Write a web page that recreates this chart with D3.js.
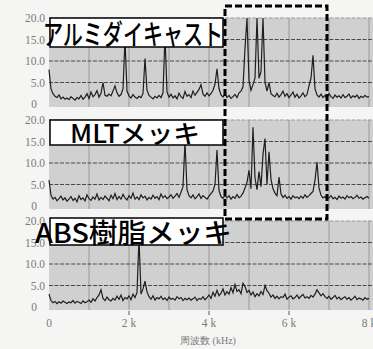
<!DOCTYPE html>
<meta charset="utf-8">
<style>
    body {
        margin: 0;
        background: #f5f5f4;
    }

    svg {
        display: block;
    }

    .tick-label {
        font-family: "Liberation Serif", "DejaVu Serif", serif;
        font-size: 11.5px;
        fill: #7a7a7a;
    }

    .name {
        font-family: "Noto Sans CJK JP", sans-serif;
        font-weight: 500;
        fill: #000;
    }
</style>

<body>
    <svg width="373" height="349"></svg>
    <script src="https://d3js.org/d3.v7.min.js"></script>
    <script>
        // spectrum sampled every 50 Hz, 0 - 8 kHz
        var freqStep = 50;

        var alumi = [
            8.0, 3.5, 2.4, 1.8, 1.5, 2.1, 1.2, 1.6, 1.1, 1.4,
            1.0, 1.7, 1.3, 0.9, 1.5, 1.2, 2.0, 1.1, 1.6, 2.4,
            1.3, 2.8, 1.7, 2.2, 3.1, 1.6, 2.5, 5.0, 2.0, 1.8,
            2.3, 1.9, 3.0, 4.2, 2.6, 1.8, 2.2, 3.5, 15.0, 3.0,
            1.9, 1.4, 2.2, 1.6, 1.3, 1.8, 1.5, 2.4, 10.6, 3.2,
            2.0, 1.6, 1.2, 1.8, 1.4, 2.0, 1.5, 2.6, 16.0, 2.8,
            1.6, 2.3, 1.4, 1.9, 1.2, 2.5, 1.7, 1.3, 2.9, 1.8,
            2.2, 1.5, 3.0, 2.0, 2.7, 3.4, 4.5, 2.3, 1.8, 2.6,
            1.9, 2.4, 3.2, 4.6, 8.2, 3.6, 2.1, 1.6, 2.4, 1.5,
            2.0, 1.3, 1.7, 2.2, 1.5, 2.6, 3.0, 4.0, 13.0, 20.0,
            5.5, 3.2, 4.5, 6.0, 20.0, 6.0, 7.5, 20.0, 5.0, 3.0,
            5.0, 2.4, 2.0, 1.7, 2.5, 1.6, 2.2, 3.0, 1.8, 2.4,
            1.5, 2.1, 2.8, 1.6, 2.3, 1.4, 1.9, 2.6, 1.7, 2.2,
            4.2, 6.0, 11.3, 3.5, 2.1, 1.6, 2.3, 1.5, 2.0, 1.4,
            2.4, 1.7, 1.3, 2.1, 1.6, 1.9, 1.4, 2.2, 1.5, 1.8,
            2.3, 1.4, 1.9, 1.6, 2.1, 1.3, 1.8, 1.5, 2.0, 1.6,
            1.7
        ];

        var mlt = [
            6.0, 2.5, 1.6, 2.0, 1.2, 1.7, 2.3, 1.4, 1.9, 1.1,
            1.6, 2.2, 1.3, 1.8, 1.0, 2.4, 1.5, 1.9, 1.2, 2.6,
            1.7, 1.3, 2.1, 1.6, 2.8, 1.4, 2.0, 1.5, 2.3, 1.8,
            1.2, 2.5, 1.7, 2.9, 1.5, 2.2, 1.6, 2.7, 1.9, 1.4,
            2.4, 1.8, 3.0, 1.6, 2.1, 1.5, 2.6, 1.9, 2.3, 1.4,
            2.0, 1.6, 2.5, 1.8, 2.2, 1.5, 2.8, 1.9, 2.4, 1.7,
            2.1, 2.6, 1.8, 2.3, 2.9, 2.0, 3.2, 4.5, 15.0, 3.8,
            2.4, 1.9, 2.6, 1.7, 2.2, 2.8, 1.8, 2.4, 2.0, 1.6,
            2.3, 2.9, 3.5, 5.0, 13.0, 3.6, 2.2, 1.8, 2.5, 1.9,
            2.4, 1.6, 2.2, 1.8, 2.7, 1.9, 2.3, 3.0, 4.2, 5.5,
            8.3, 4.0, 18.3, 6.5, 3.8, 8.0, 4.5, 12.0, 15.7, 5.0,
            12.6, 6.2, 4.0, 3.0, 2.4, 6.7, 2.8, 2.0, 2.5, 1.8,
            2.2, 1.6, 2.4, 1.9, 2.1, 1.7, 2.3, 1.8, 2.6, 2.0,
            2.4, 2.9, 3.4, 6.0, 10.2, 4.2, 2.5, 1.9, 2.2, 1.6,
            1.9, 2.4, 1.7, 2.0, 1.5, 2.3, 1.8, 2.1, 1.6, 2.4,
            1.9, 2.2, 1.7, 2.0, 2.5, 1.8, 2.1, 1.6, 1.9, 2.2,
            1.8
        ];

        var abs = [
            3.0, 1.5, 1.0, 1.3, 0.8, 1.2, 0.9, 1.4, 1.1, 0.8,
            1.2, 1.0, 1.5, 0.9, 1.3, 1.1, 0.8, 1.4, 1.0, 1.2,
            1.6, 1.1, 1.9, 1.4, 2.2, 2.8, 4.0, 2.0, 1.5, 2.3,
            1.7, 1.4, 2.0, 1.6, 2.5, 1.8, 2.8, 1.5, 2.2, 1.9,
            2.6, 1.7, 3.0, 2.2, 3.4, 16.0, 3.0, 4.2, 6.0, 3.5,
            2.4, 1.8, 2.6, 1.6, 2.2, 1.9, 2.5, 1.7, 2.1, 1.5,
            2.3, 1.8, 2.0, 1.6, 2.4, 1.9, 2.2, 1.5, 2.0, 1.7,
            2.1, 1.6, 1.9, 2.3, 1.5, 2.0, 1.8, 2.4, 1.7, 2.2,
            2.8, 2.0, 3.4, 2.5, 3.9, 2.6, 3.2, 4.2, 2.8, 3.6,
            3.0, 4.5, 3.3, 5.2, 3.6, 4.0, 3.1, 5.5, 4.8, 3.4,
            3.9, 2.8, 3.5, 2.4, 3.1, 2.6, 3.6, 2.9, 5.0, 3.8,
            3.2, 2.3, 2.8, 2.0, 2.5, 1.9, 2.4, 2.2, 3.0, 1.8,
            2.3, 2.6, 1.9, 2.2, 2.8, 2.0, 2.5, 2.9, 2.1, 2.4,
            2.0, 2.7, 2.3, 3.0, 4.0, 3.3, 2.6, 3.1, 2.4, 2.0,
            2.5, 1.8, 2.2, 2.7, 1.9, 2.3, 1.7, 2.1, 2.4, 1.8,
            2.2, 1.6, 2.0, 2.5, 1.7, 2.1, 1.9, 1.6, 2.2, 1.8,
            2.0
        ];

        var panelNames = ["アルミダイキャスト", "MLTメッキ", "ABS樹脂メッキ"];
        var yTicks = [0, 5, 10, 15, 20];
        var yTickLabels = ["0", "5.0", "10.0", "15.0", "20.0"];
        var xTicks = [0, 2000, 4000, 6000, 8000];
        var xTickLabels = ["0", "2 k", "4 k", "6 k", "8 k"];
        var xTitle = "周波数 (kHz)";

        var svg = d3.select("svg");

        var x = d3.scaleLinear().domain([0, 8000]).range([49, 369]);

        var panels = [
            { data: alumi, top: 18, box: [50, 18, 173, 29], text: [43, 45, 180, 28] },
            { data: mlt, top: 120, box: [50, 120, 173, 25], text: [70, 143, 130, 25] },
            { data: abs, top: 221, box: [50, 218, 173, 27], text: [35, 243, 197, 27] }
        ];
        var panelH = 86;

        panels.forEach(function(p, k) {
            var y = d3.scaleLinear().domain([0, 20]).range([p.top + panelH, p.top]);
            var g = svg.append("g");

            g.append("rect")
                .attr("x", 49)
                .attr("y", p.top)
                .attr("width", 373 - 49)
                .attr("height", panelH + 3)
                .attr("fill", "#d0d0d0");

            // vertical grid, every 1 kHz
            g.selectAll(".vgrid")
                .data(d3.range(1000, 9000, 1000))
                .enter().append("line")
                .attr("x1", function(d) { return x(d); })
                .attr("x2", function(d) { return x(d); })
                .attr("y1", p.top)
                .attr("y2", p.top + panelH + 3)
                .attr("stroke", "#8c8c8c")
                .attr("stroke-width", 0.8);

            g.selectAll(".hgrid")
                .data(yTicks.slice(1))
                .enter().append("line")
                .attr("x1", 49)
                .attr("x2", 373)
                .attr("y1", function(d) { return y(d); })
                .attr("y2", function(d) { return y(d); })
                .attr("stroke", function(d) { return d == 20 ? "#9a9a9a" : "#4a4a4a"; })
                .attr("stroke-width", 1)
                .attr("stroke-dasharray", "4,1.5");

            g.selectAll(".ylab")
                .data(yTicks)
                .enter().append("text")
                .attr("class", "tick-label")
                .attr("x", function(d) { return d == 0 ? 37 : 45; })
                .attr("y", function(d) { return y(d) + 4; })
                .attr("text-anchor", "end")
                .text(function(d, i) { return yTickLabels[i]; });

            var line = d3.line()
                .x(function(d, i) { return x(i * freqStep); })
                .y(function(d) { return y(d); });

            g.append("path")
                .datum(p.data)
                .attr("d", line)
                .attr("fill", "none")
                .attr("stroke", "#1e1e1e")
                .attr("stroke-width", 1.2)
                .attr("stroke-linejoin", "miter");
        });

        // big labels on top
        panels.forEach(function(p, k) {
            svg.append("rect")
                .attr("x", p.box[0])
                .attr("y", p.box[1])
                .attr("width", p.box[2])
                .attr("height", p.box[3])
                .attr("fill", "#fff")
                .attr("stroke", "#000")
                .attr("stroke-width", 1.5);

            svg.append("text")
                .attr("class", "name")
                .attr("x", p.text[0])
                .attr("y", p.text[1])
                .attr("font-size", p.text[3])
                .attr("textLength", p.text[2])
                .attr("lengthAdjust", "spacingAndGlyphs")
                .text(panelNames[k]);
        });

        // x axis labels under the last panel
        var axisY = 311;
        svg.selectAll(".xtick")
            .data(xTicks.slice(1, 4))
            .enter().append("line")
            .attr("x1", function(d) { return x(d); })
            .attr("x2", function(d) { return x(d); })
            .attr("y1", axisY)
            .attr("y2", axisY + 4)
            .attr("stroke", "#555");

        svg.selectAll(".xlab")
            .data(xTicks)
            .enter().append("text")
            .attr("class", "tick-label")
            .attr("x", function(d) { return x(d); })
            .attr("y", 327)
            .attr("text-anchor", "middle")
            .text(function(d, i) { return xTickLabels[i]; });

        svg.append("text")
            .attr("class", "tick-label")
            .attr("x", 208)
            .attr("y", 344)
            .attr("text-anchor", "middle")
            .style("font-size", "10px")
            .text(xTitle);

        // highlighted band 5-7 kHz
        svg.append("rect")
            .attr("x", 225)
            .attr("y", 6)
            .attr("width", 102)
            .attr("height", 213)
            .attr("fill", "none")
            .attr("stroke", "#000")
            .attr("stroke-width", 3)
            .attr("stroke-dasharray", "7,3");
    </script>
</body>
